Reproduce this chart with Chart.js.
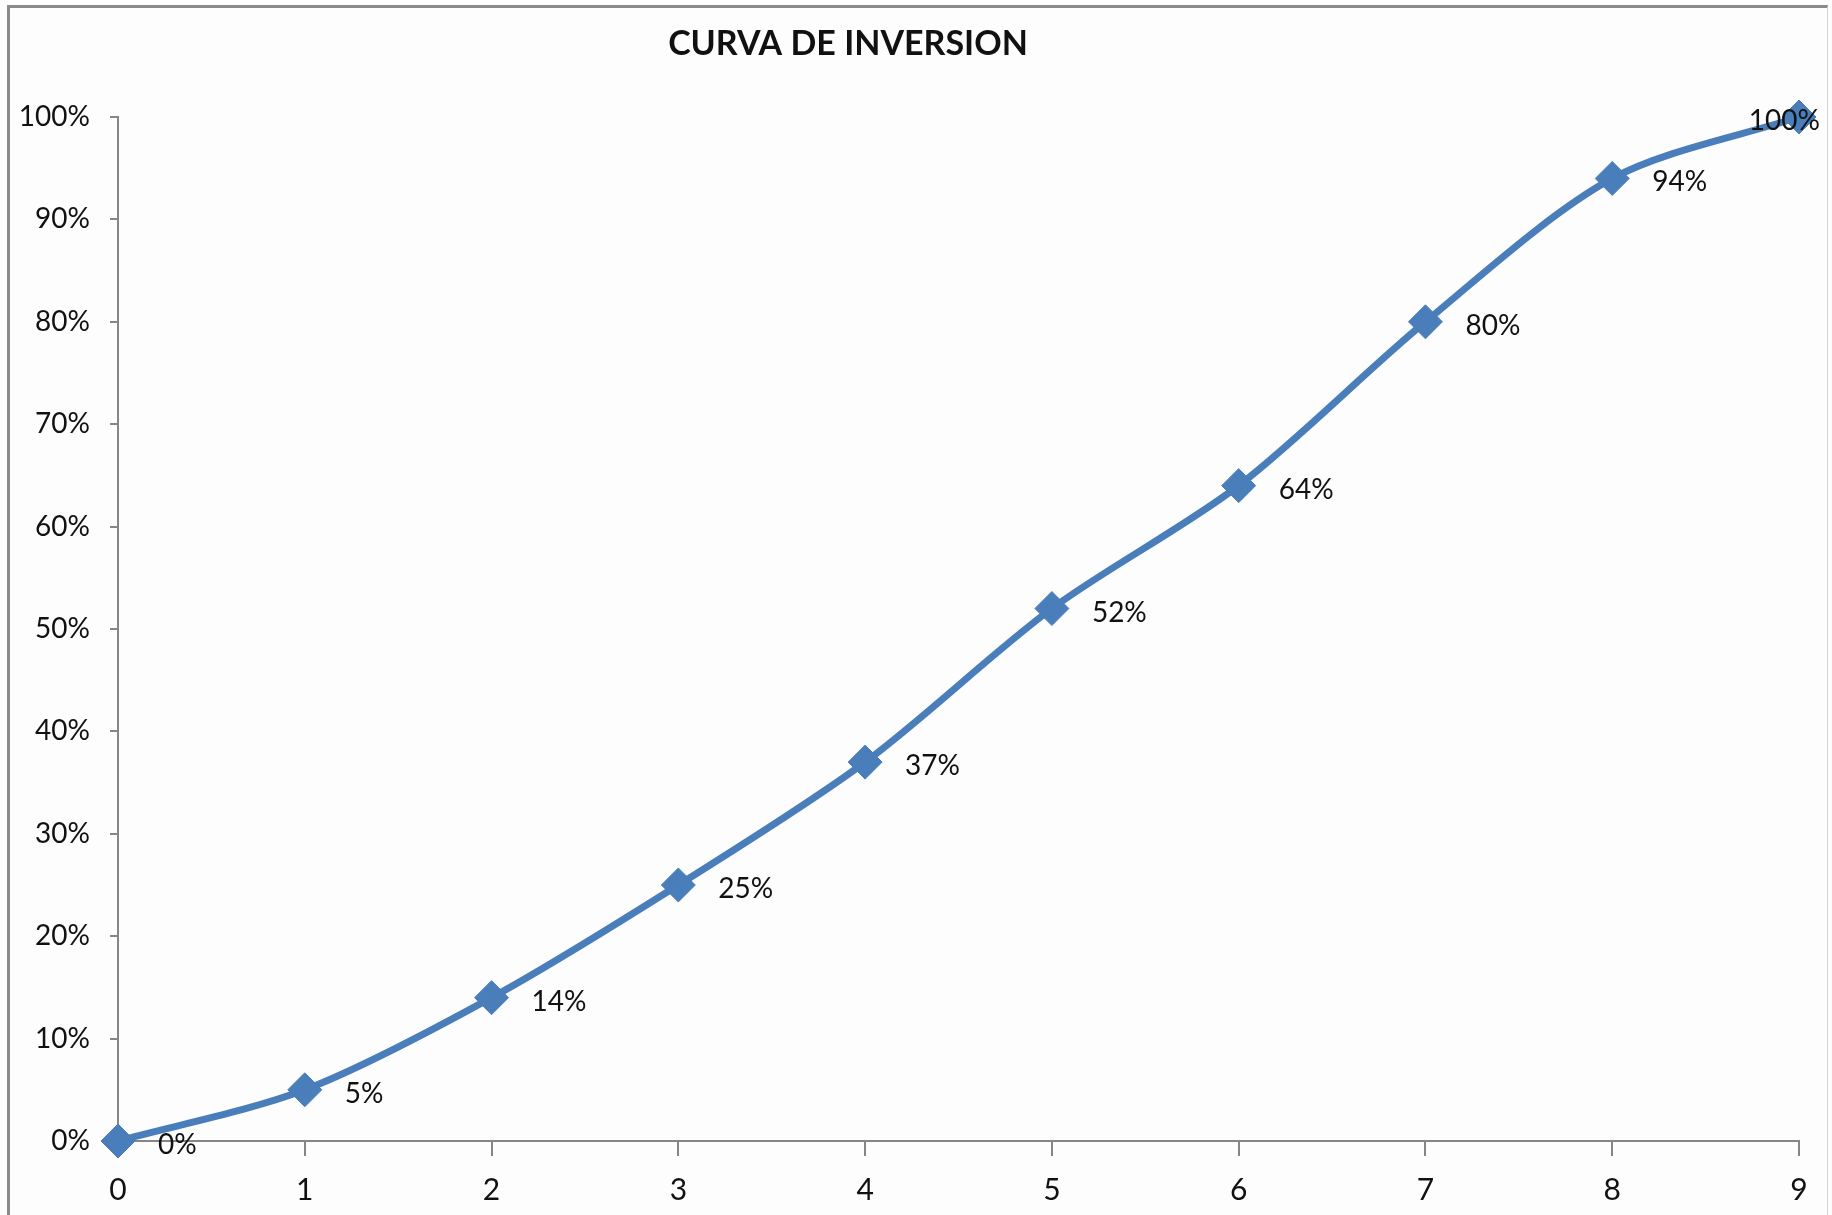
<!DOCTYPE html>
<html lang="es">
    <head>
        <meta charset="utf-8" />
        <script src="https://cdn.jsdelivr.net/npm/chart.js@4/dist/chart.umd.min.js"></script>
        <title>Curva de inversion</title>
        <style>
            body { margin: 0; background: #fdfdfd; }
            #marco {
                position: absolute; left: 7px; top: 5px; width: 1817px; height: 1230px;
                border-left: 3px solid #8a8a8a; border-top: 3px solid #8a8a8a; border-right: 1px solid #d4d4d4;
            }
            #curva { position: absolute; left: 0; top: 0; }
        </style>
    </head>
    <body>
        <div id="marco"></div>
        <canvas id="curva" width="1832" height="1215"></canvas>
        <script>
            // Datos de la curva: periodo y porcentaje acumulado
            const TITULO = "CURVA DE INVERSION";
            const periodos = ["0", "1", "2", "3", "4", "5", "6", "7", "8", "9"];
            const avance = [0, 5, 14, 25, 37, 52, 64, 80, 94, 100];
            const marcasY = [0, 10, 20, 30, 40, 50, 60, 70, 80, 90, 100];

            const azul = "#4a7ebb";
            const gris = "#868686";

            // Titulo dibujado a mano (va corrido a la izquierda)
            const titulo = {
                id: "titulo",
                afterDraw(chart) {
                    const ctx = chart.ctx;
                    ctx.save();
                    ctx.font = "bold 34px Lato";
                    ctx.fillStyle = "#111";
                    ctx.textAlign = "center";
                    ctx.textBaseline = "middle";
                    ctx.fillText(TITULO, 848, 44);
                    ctx.restore();
                }
            };

            // Etiquetas de valor a la derecha de cada punto
            const etiquetas = {
                id: "etiquetas",
                afterDatasetsDraw(chart) {
                    const ctx = chart.ctx;
                    const meta = chart.getDatasetMeta(0);
                    ctx.save();
                    ctx.font = "28px Lato";
                    ctx.fillStyle = "#111";
                    ctx.textAlign = "left";
                    ctx.textBaseline = "middle";
                    meta.data.forEach((p, i) => {
                        const txt = avance[i] + "%";
                        const w = ctx.measureText(txt).width;
                        let x = p.x + 40;
                        if (x + w > chart.width - 12) x = chart.width - 12 - w;
                        ctx.fillText(txt, x, p.y + 4);
                    });
                    ctx.restore();
                }
            };

            new Chart(document.getElementById("curva").getContext("2d"), {
                type: "line",
                data: {
                    labels: periodos,
                    datasets: [{
                        label: "Avance",
                        data: avance,
                        borderColor: azul,
                        backgroundColor: azul,
                        borderWidth: 7,
                        tension: 0.3,
                        pointStyle: "rectRot",
                        pointRadius: 17,
                        pointBorderWidth: 1,
                        pointBackgroundColor: azul,
                        pointBorderColor: azul,
                        clip: false
                    }]
                },
                options: {
                    responsive: false,
                    animation: false,
                    layout: { padding: { top: 117, right: 33, left: 0, bottom: 0 } },
                    plugins: {
                        legend: { display: false },
                        title: { display: false },
                        tooltip: { enabled: false }
                    },
                    scales: {
                        x: {
                            offset: false,
                            afterFit: (s) => { s.height = 74; },
                            grid: { drawOnChartArea: false, tickLength: 15, color: gris, lineWidth: 2 },
                            border: { color: gris, width: 2 },
                            ticks: { color: "#111", padding: 16, font: { family: "Lato", size: 30 } }
                        },
                        y: {
                            min: 0,
                            max: 100,
                            afterFit: (s) => { s.width = 118; },
                            afterBuildTicks: (s) => { s.ticks = marcasY.map(v => ({ value: v })); },
                            grid: { drawOnChartArea: false, tickLength: 8, color: gris, lineWidth: 2 },
                            border: { color: gris, width: 2 },
                            ticks: {
                                color: "#111",
                                padding: 20,
                                font: { family: "Lato", size: 28 },
                                callback: (v) => v + "%"
                            }
                        }
                    }
                },
                plugins: [titulo, etiquetas]
            });
        </script>
    </body>
</html>
